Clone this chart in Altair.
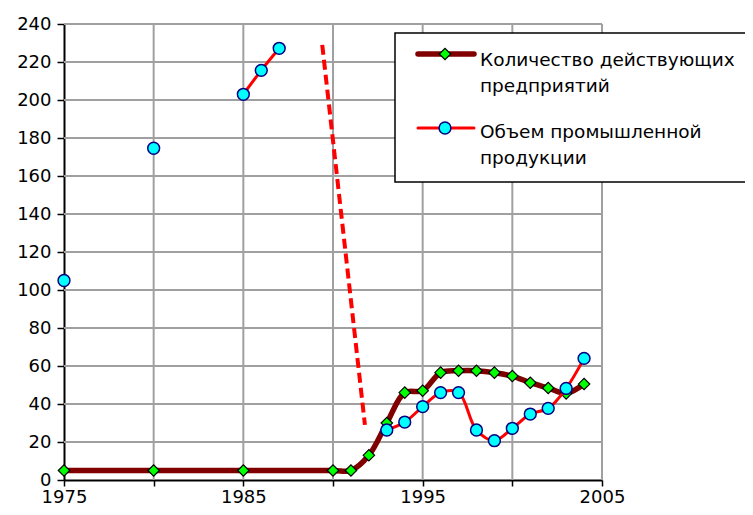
import altair as alt
import pandas as pd

# ---- data ----
ent_years = [1975, 1980, 1985, 1990, 1991, 1992, 1993, 1994, 1995, 1996, 1997,
             1998, 1999, 2000, 2001, 2002, 2003, 2004]
ent_values = [5, 5, 5, 5, 5, 13, 30, 46, 47, 56.5, 57.5, 57.5, 56.5, 54.7,
              51.2, 48.4, 45.6, 50.5]

vol_years = [1975, 1980, 1985, 1986, 1987, 1993, 1994, 1995, 1996, 1997, 1998,
             1999, 2000, 2001, 2002, 2003, 2004]
vol_values = [105, 174.6, 203, 215.6, 227.2, 26.3, 30.5, 38.6, 46, 46, 26.3,
              20.7, 27.2, 34.7, 37.7, 48.2, 64]
vol_segments = ["a", "b", "c", "c", "c", "d", "d", "d", "d", "d", "d",
                "d", "d", "d", "d", "d", "d"]

dash_years = [1989.4, 1991.78]
dash_values = [229, 29]

grid_x = [1980, 1985, 1990, 1995, 2000, 2005]
grid_y = [20, 40, 60, 80, 100, 120, 140, 160, 180, 200, 220, 240]
tick_x = [1975, 1980, 1985, 1990, 1995, 2000, 2005]
tick_y = [0, 20, 40, 60, 80, 100, 120, 140, 160, 180, 200, 220, 240]

legend_lines = [["Количество действующих", "предприятий"],
                ["Объем промышленной", "продукции"]]

FONT = "DejaVu Sans"
LEG_FONT = "DejaVu Sans"
GRID = "#a0a0a0"

ent_df = pd.DataFrame({"year": ent_years, "value": ent_values})
vol_df = pd.DataFrame({"year": vol_years, "value": vol_values, "seg": vol_segments})
dash_df = pd.DataFrame({"year": dash_years, "value": dash_values})

xs = alt.Scale(domain=[1975, 2005], nice=False, zero=False)
ys = alt.Scale(domain=[0, 240], nice=False, zero=True)

x_axis = alt.Axis(values=tick_x, format="d", title=None, grid=False,
                  labelExpr="datum.value % 10 == 5 ? datum.label : ''",
                  labelFont=FONT, labelFontSize=18, labelColor="black",
                  domainColor="black", domainWidth=2, tickColor="black",
                  tickWidth=1.5, tickSize=6, labelPadding=2, labelOverlap=False,
                  labelFlush=False)
y_axis = alt.Axis(values=tick_y, title=None, grid=False,
                  labelFont=FONT, labelFontSize=18, labelColor="black",
                  domainColor="black", domainWidth=2, tickColor="black",
                  tickWidth=1.5, tickSize=7, labelPadding=6, labelOverlap=False)


def X(field):
    return alt.X(field, scale=xs, axis=x_axis, title=None)


def Y(field):
    return alt.Y(field, scale=ys, axis=y_axis, title=None)


gx = alt.Chart(pd.DataFrame({"g": grid_x})).mark_rule(color=GRID, strokeWidth=2).encode(
    x=X("g:Q"))
gy = alt.Chart(pd.DataFrame({"g": grid_y})).mark_rule(color=GRID, strokeWidth=2).encode(
    y=Y("g:Q"))

ent_line = alt.Chart(ent_df).mark_line(color="#800000", strokeWidth=5.5,
                                       interpolate="catmull-rom").encode(
    x=X("year:Q"), y=Y("value:Q"))
ent_pts = alt.Chart(ent_df).mark_point(shape="diamond", filled=True, fill="#00ff00",
                                       stroke="black", strokeWidth=1.2, size=130,
                                       opacity=1).encode(
    x=X("year:Q"), y=Y("value:Q"))

vol_line = alt.Chart(vol_df).mark_line(color="#ff0000", strokeWidth=3,
                                       interpolate="catmull-rom").encode(
    x=X("year:Q"), y=Y("value:Q"), detail="seg:N")
vol_pts = alt.Chart(vol_df).mark_point(shape="circle", filled=True, fill="#00ffff",
                                       stroke="#000080", strokeWidth=1.5, size=140,
                                       opacity=1).encode(
    x=X("year:Q"), y=Y("value:Q"))

dash = alt.Chart(dash_df).mark_line(color="#ff0000", strokeWidth=4,
                                    strokeDash=[10, 5]).encode(
    x=X("year:Q"), y=Y("value:Q"))

# ---- legend (drawn manually) ----
one = alt.Chart(pd.DataFrame({"k": [0]}))
leg_box = one.mark_rect(fill="white", stroke="black", strokeWidth=1.5).encode(
    x=alt.value(331), x2=alt.value(720), y=alt.value(9), y2=alt.value(158))
leg_l1 = one.mark_rule(color="#800000", strokeWidth=5.5, strokeCap="round").encode(
    x=alt.value(354), x2=alt.value(410), y=alt.value(30))
leg_p1 = one.mark_point(shape="diamond", filled=True, fill="#00ff00", stroke="black",
                        strokeWidth=1.2, size=130, opacity=1).encode(
    x=alt.value(381), y=alt.value(30))
leg_l2 = one.mark_rule(color="#ff0000", strokeWidth=3, strokeCap="round").encode(
    x=alt.value(354), x2=alt.value(410), y=alt.value(104))
leg_p2 = one.mark_point(shape="circle", filled=True, fill="#00ffff", stroke="#000080",
                        strokeWidth=1.5, size=140, opacity=1).encode(
    x=alt.value(381), y=alt.value(104))


def leg_text(txt, y):
    return one.mark_text(text=txt, font=LEG_FONT, fontSize=18.5, color="black",
                         align="left", baseline="alphabetic").encode(
        x=alt.value(416), y=alt.value(y))


texts = [leg_text(legend_lines[0][0], 42), leg_text(legend_lines[0][1], 68),
         leg_text(legend_lines[1][0], 114), leg_text(legend_lines[1][1], 140)]

chart = alt.layer(gx, gy, ent_line, ent_pts, vol_line, vol_pts, dash,
                  leg_box, leg_l1, leg_p1, leg_l2, leg_p2, *texts).properties(
    width=538, height=456,
    autosize=alt.AutoSizeParams(type="none"),
    padding={"left": 56, "top": 16, "right": 143, "bottom": 27},
).configure_view(stroke=None).configure(background="white")

chart.save("out.html", embed_options={"renderer": "svg", "actions": False})
